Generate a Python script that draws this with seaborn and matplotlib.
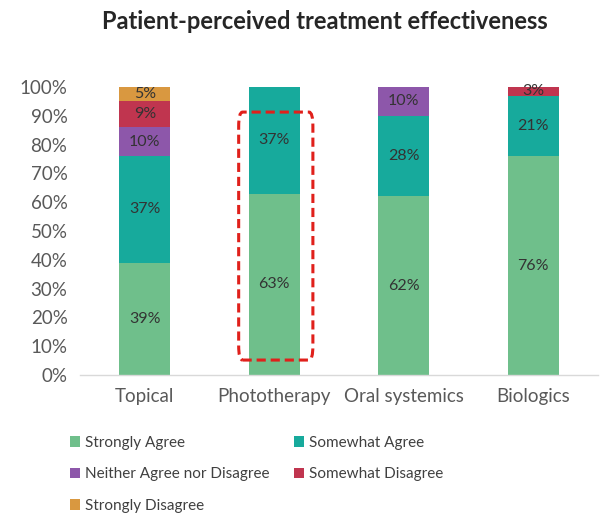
import matplotlib
matplotlib.use("Agg")
import matplotlib.pyplot as plt
import seaborn as sns
import numpy as np
import pandas as pd
from matplotlib.patches import FancyBboxPatch, Patch
from matplotlib.ticker import PercentFormatter

categories = ["Topical", "Phototherapy", "Oral systemics", "Biologics"]
series_names = ["Strongly Agree", "Somewhat Agree", "Neither Agree nor Disagree",
                "Somewhat Disagree", "Strongly Disagree"]
strongly_agree = [39, 63, 62, 76]
somewhat_agree = [37, 37, 28, 21]
neither = [10, 0, 10, 0]
somewhat_disagree = [9, 0, 0, 3]
strongly_disagree = [5, 0, 0, 0]
colors = ["#6fbf8b", "#17aa9c", "#8d57aa", "#c0354f", "#d99840"]

series_values = [strongly_agree, somewhat_agree, neither, somewhat_disagree, strongly_disagree]

sns.set_theme(style="white")
plt.rcParams['font.family'] = ['Lato', 'DejaVu Sans']

fig = plt.figure(figsize=(6.06, 5.18), dpi=100)
ax = fig.add_axes([0.132, 0.276, 0.855, 0.556])

bottom = np.zeros(len(categories))
for name, vals, col in zip(series_names, series_values, colors):
    v = np.array(vals, dtype=float) / 100.0
    df = pd.DataFrame({"cat": categories, "val": v})
    sns.barplot(data=df, x="cat", y="val", color=col, bottom=bottom, width=0.395,
                ax=ax, saturation=1, linewidth=0, order=categories)
    for i, val in enumerate(vals):
        if val > 0:
            ax.text(i, bottom[i] + v[i] / 2, f"{val}%", ha="center", va="center",
                    fontsize=11.5, color="#333333")
    bottom += v

ax.set_xlim(-0.5, 3.5)
ax.set_ylim(0, 1.0)
ax.set_yticks(np.arange(0, 1.01, 0.1))
ax.yaxis.set_major_formatter(PercentFormatter(1.0, decimals=0))
ax.set_xlabel("")
ax.set_ylabel("")
for s in ["top", "right", "left"]:
    ax.spines[s].set_visible(False)
ax.spines["bottom"].set_color("#d9d9d9")
ax.spines["bottom"].set_linewidth(1)
ax.tick_params(axis="y", labelsize=13.5, labelcolor="#595959", length=0, pad=9)
ax.tick_params(axis="x", labelsize=13.5, labelcolor="#595959", length=0, pad=9)

# highlight box around phototherapy
box = FancyBboxPatch((0.725, 0.052), 0.573, 0.861,
                     boxstyle="round,pad=0,rounding_size=0.03",
                     fill=False, edgecolor="#e0201b", linestyle=(0, (3, 1.6)),
                     linewidth=2.2, mutation_aspect=1 / 0.6, zorder=5)
ax.add_patch(box)

fig.text(0.536, 0.958, "Patient-perceived treatment effectiveness", ha="center", va="center",
         fontsize=17, fontweight="bold", color="#262626")

order = [0, 2, 4, 1, 3]
handles = [Patch(facecolor=colors[i], edgecolor="none") for i in order]
labels = [series_names[i] for i in order]
fig.legend(handles, labels, loc="upper left", bbox_to_anchor=(0.092, 0.185), ncol=2,
           frameon=False, fontsize=11, handlelength=0.7, handleheight=0.7,
           handletextpad=0.3, columnspacing=1.6, labelspacing=1.15, labelcolor="#404040")

fig.savefig("out.png", dpi=100)
